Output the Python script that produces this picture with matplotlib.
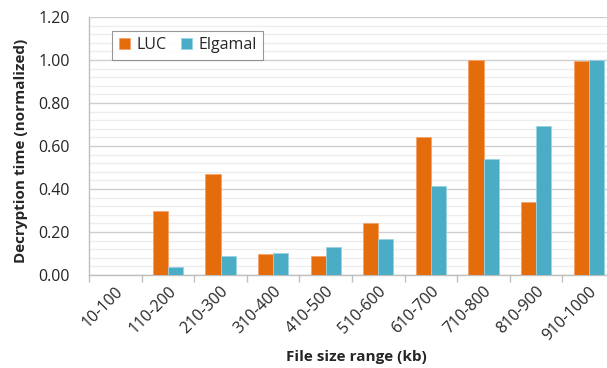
import matplotlib
matplotlib.use("Agg")
import matplotlib.pyplot as plt
import numpy as np
from matplotlib.ticker import MultipleLocator

categories = ["10-100", "110-200", "210-300", "310-400", "410-500",
              "510-600", "610-700", "710-800", "810-900", "910-1000"]
luc = [0.0, 0.30, 0.47, 0.10, 0.09, 0.24, 0.64, 1.00, 0.34, 0.995]
elgamal = [0.0, 0.035, 0.087, 0.104, 0.13, 0.168, 0.413, 0.54, 0.693, 1.00]
yticks = [0.0, 0.2, 0.4, 0.6, 0.8, 1.0, 1.2]

plt.rcParams['font.family'] = ['Open Sans', 'DejaVu Sans']

fig = plt.figure(figsize=(6.07, 3.68), dpi=100)
ax = fig.add_axes([89/607, 1 - 275/368, 526/607, 258/368])

x = np.arange(len(categories))
w = 0.286
c_luc = "#E46C0A"
c_el = "#4BACC6"
ax.bar(x - w/2, luc, width=w, color=c_luc, edgecolor="#F3A36A", linewidth=0.6, label="LUC", zorder=3)
ax.bar(x + w/2, elgamal, width=w, color=c_el, edgecolor="#9AD3E2", linewidth=0.6, label="Elgamal", zorder=3)

ax.set_xlim(-0.5, len(categories) - 0.5)
ax.set_ylim(0, 1.2)
ax.set_yticks(yticks)
ax.set_yticklabels([f"{v:.2f}" for v in yticks])
ax.yaxis.set_minor_locator(MultipleLocator(0.04))
ax.grid(which='major', axis='y', color="#CFCFCF", linewidth=1.0, zorder=0)
ax.grid(which='minor', axis='y', color="#EDEDED", linewidth=0.9, zorder=0)
ax.tick_params(axis='y', which='both', length=0, pad=14, labelsize=11.5, colors="#262626")

ax.set_xticks(x)
ax.set_xticklabels(categories, rotation=45, ha='right', va='top', rotation_mode='anchor', fontsize=11.5, color="#262626")
ax.set_xticks(np.arange(-0.5, len(categories) + 0.5, 1), minor=True)
ax.tick_params(axis='x', which='major', length=0, pad=6)
ax.tick_params(axis='x', which='minor', length=5, color="#BFBFBF", width=1)

for s in ['top', 'right']:
    ax.spines[s].set_visible(False)
ax.spines['left'].set_color("#BFBFBF")
ax.spines['bottom'].set_color("#BFBFBF")
ax.spines['left'].set_linewidth(1)
ax.spines['bottom'].set_linewidth(1)

ax.set_ylabel("Decryption time (normalized)", fontsize=11, fontweight='bold', color="#262626")
ax.set_xlabel("File size range (kb)", fontsize=11, fontweight='bold', color="#262626")
ax.xaxis.set_label_coords((356 - 89) / 526, -(350 - 275) / 258)
ax.yaxis.set_label_coords(-(89 - 28) / 526, (275 - 151) / 258)

leg = ax.legend(loc='upper left', bbox_to_anchor=(0.044, 0.946), ncol=2, frameon=True, fancybox=False,
                fontsize=11.5, handlelength=0.7, handleheight=0.7, handletextpad=0.4, columnspacing=0.9,
                borderpad=0.4, borderaxespad=0)
leg.get_frame().set_edgecolor("#7F7F7F")
leg.get_frame().set_linewidth(0.8)
for t in leg.get_texts():
    t.set_color("#262626")

fig.savefig("out.png", dpi=100)
